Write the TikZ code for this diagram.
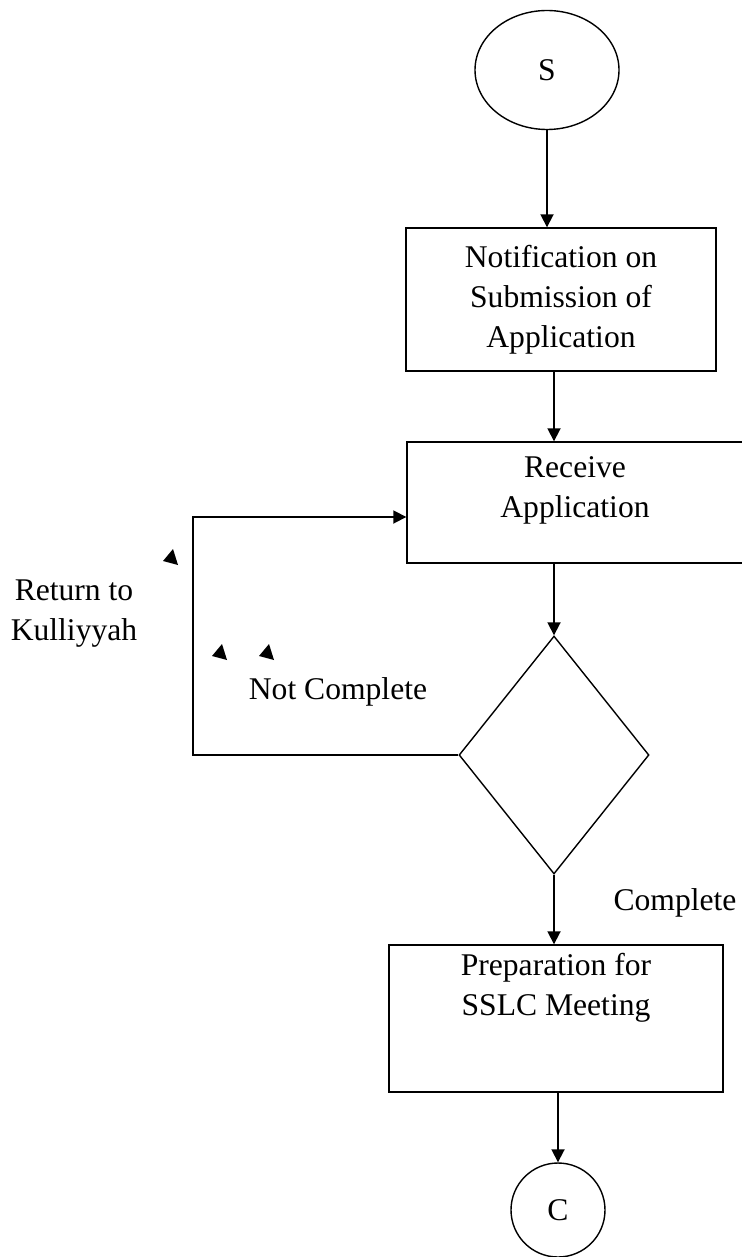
\documentclass[tikz,border=0pt]{standalone}
\usepackage{fontspec}
\setmainfont{Liberation Serif}
\usetikzlibrary{shapes.geometric,arrows.meta}
\begin{document}
\begin{tikzpicture}[x=0.5pt,y=-0.5pt,
  every node/.style={font=\fontsize{15.8}{20}\selectfont},
  boxnode/.style={draw,line width=0.7pt,rectangle,inner sep=0pt},
  txt/.style={align=center,inner sep=0pt},
  arr/.style={line width=0.9pt,-{Triangle[width=6.5pt,length=6.5pt]}},
  loopline/.style={line width=0.8pt}]
\useasboundingbox[fill=white] (0,0) rectangle (741,1257);
% nodes
\node[draw,line width=0.7pt,ellipse,minimum width=72pt,minimum height=59.5pt,inner sep=0pt] (s) at (547,70) {S};
\node[boxnode,minimum width=155pt,minimum height=71.5pt,align=center] (n1) at (561,299.5) {Notification on\\Submission of\\Application};
\node[boxnode,minimum width=168pt,minimum height=60.5pt] (recv) at (575,502.5) {};
\node[txt] (recvtext) at (575,490) {Receive\\Application};
\node[draw,line width=0.7pt,diamond,minimum width=95pt,minimum height=119pt,inner sep=0pt] (dia) at (554,755) {};
\node[boxnode,minimum width=167pt,minimum height=73.5pt] (prep) at (556,1018.5) {};
\node[txt] (preptext) at (556,988) {Preparation for\\SSLC Meeting};
\node[draw,line width=0.7pt,circle,minimum size=47pt,inner sep=0pt] (c) at (558,1210) {C};
% labels
\node[txt] (ret) at (74,614) {Return to\\Kulliyyah};
\node[txt] (notc) at (338,692) {Not Complete};
\node[txt] (comp) at (675,903) {Complete};
% connectors
\draw[arr] (s.south) -- (s.south |- n1.north);
\draw[arr] (dia.north |- n1.south) -- (dia.north |- recv.north);
\draw[arr] (dia.north |- recv.south) -- (dia.north);
\draw[arr] (dia.south) -- (dia.south |- prep.north);
\draw[arr] (c.north |- prep.south) -- (c.north);
\coordinate (lc) at (193,517);
\draw[arr] (dia.west) -| (lc) -- (lc -| recv.west);
% stray arrowheads
\foreach \px/\py in {171/558, 220/653, 267/653}{
  \fill (\px+2,\py-9) -- (\px-8,\py+3) -- (\px+7,\py+7) -- cycle;
}
\end{tikzpicture}
\end{document}
